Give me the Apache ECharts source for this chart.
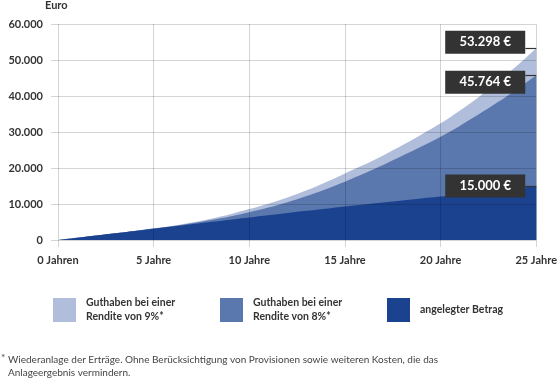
<!DOCTYPE html>
<html>
<head>
<meta charset="utf-8">
<script src="https://cdn.jsdelivr.net/npm/echarts@6/dist/echarts.min.js"></script>
<style>
html,body{margin:0;padding:0;background:#fff;}
#c{width:560px;height:379px;}
</style>
</head>
<body>
<div id="c"></div>
<script>
// Years 0..25
const years = [0,1,2,3,4,5,6,7,8,9,10,11,12,13,14,15,16,17,18,19,20,21,22,23,24,25];
// Guthaben bei einer Rendite von 9%
const rendite9 = [0,620,1250,1880,2520,3230,3980,4880,5930,7180,8600,10100,11800,13800,16050,18500,20900,23500,26300,29300,32400,35900,39750,43950,48450,53298];
// Guthaben bei einer Rendite von 8%
const rendite8 = [0,620,1250,1880,2510,3200,3850,4650,5550,6550,7700,9000,10500,12200,14100,16200,18450,20850,23400,26000,28700,31700,34900,38300,41900,45764];
// angelegter Betrag
const betrag = [0,625,1250,1875,2500,3130,3750,4380,5000,5630,6250,6870,7500,8100,8700,9300,9880,10450,11000,11550,12050,12640,13230,13820,14410,15000];
const seriesNames = ['Guthaben bei einer\nRendite von 9%*', 'Guthaben bei einer\nRendite von 8%*', 'angelegter Betrag'];
const endLabels = ['53.298 €', '45.764 €', '15.000 €'];
const yTickLabels = ['0', '10.000', '20.000', '30.000', '40.000', '50.000', '60.000'];
const footnote = 'Wiederanlage der Erträge. Ohne Berücksichtigung von Provisionen sowie weiteren Kosten, die das\nAnlageergebnis vermindern.';

const colors = ['#b0bedb', '#5a77ae', '#1b428f'];
const labelOffsets = [-6, 7, 0];
const FONT = 'Lato';
const GRID = { left: 58, right: 20, top: 24, bottom: 139 };
const CONNECTOR_PX = 11;

function mkData(vals, idx) {
  return vals.map((v, i) => {
    const item = { value: [years[i], v] };
    if (i === vals.length - 1) {
      item.label = {
        show: true,
        position: 'left',
        distance: CONNECTOR_PX,
        offset: [0, labelOffsets[idx]],
        formatter: '{b|' + endLabels[idx] + '}',
        rich: {
          b: {
            width: 80, height: 23, lineHeight: 23, align: 'center',
            backgroundColor: '#333333', color: '#ffffff',
            fontFamily: FONT, fontWeight: 'bold', fontSize: 13
          }
        }
      };
    }
    return item;
  });
}

const xMax = years[years.length - 1];
const plotW = 560 - GRID.left - GRID.right;
const connectorX = xMax - CONNECTOR_PX * xMax / plotW;

const allData = [rendite9, rendite8, betrag];
const series = allData.map((vals, idx) => {
  const last = vals[vals.length - 1];
  return {
    name: seriesNames[idx],
    type: 'line',
    smooth: 0.3,
    showSymbol: true,
    symbolSize: 0,
    lineStyle: { width: 0 },
    itemStyle: { color: colors[idx] },
    areaStyle: { color: colors[idx], opacity: 1 },
    data: mkData(vals, idx),
    markLine: {
      silent: true,
      symbol: 'none',
      label: { show: false },
      lineStyle: { color: '#333333', width: 1.2, type: 'solid' },
      data: [[{ coord: [connectorX, last] }, { coord: [xMax, last] }]]
    },
    z: 2 + idx,
    animation: false
  };
});

const chart = echarts.init(document.getElementById('c'), null, { renderer: 'canvas' });
chart.setOption({
  animation: false,
  textStyle: { fontFamily: FONT },
  grid: Object.assign({ containLabel: false }, GRID),
  xAxis: {
    type: 'value', min: 0, max: xMax, interval: 5, z: 10,
    axisLine: { show: false },
    axisTick: { show: true, length: 7, lineStyle: { color: 'rgba(0,0,0,0.17)' } },
    splitLine: { show: true, lineStyle: { color: 'rgba(0,0,0,0.17)', width: 1 } },
    axisLabel: {
      margin: 15, color: '#333', fontFamily: FONT, fontWeight: 'bold', fontSize: 11,
      formatter: v => v === 0 ? '0 Jahren' : v + ' Jahre'
    }
  },
  yAxis: {
    type: 'value', min: 0, max: 60000, interval: 10000, z: 10,
    axisLine: { show: false },
    axisTick: { show: true, length: 7, lineStyle: { color: 'rgba(0,0,0,0.17)' } },
    splitLine: { show: true, lineStyle: { color: 'rgba(0,0,0,0.17)', width: 1 } },
    axisLabel: {
      margin: 15, color: '#333', fontFamily: FONT, fontWeight: 'bold', fontSize: 11,
      formatter: v => yTickLabels[Math.round(v / 10000)]
    }
  },
  legend: {
    left: 53, top: 296, padding: 0,
    itemWidth: 23, itemHeight: 24, itemGap: 38,
    icon: 'rect',
    data: seriesNames,
    textStyle: { color: '#333', fontFamily: FONT, fontWeight: 'bold', fontSize: 10.5, lineHeight: 14, width: 96, padding: [0, 0, 0, 5] },
    selectedMode: false
  },
  graphic: [
    { type: 'text', left: 45, top: 0, style: { text: 'Euro', fill: '#333', font: 'bold 11px ' + FONT } },
    { type: 'text', left: 1, top: 353, style: { text: '*', fill: '#444', font: '10px ' + FONT } },
    { type: 'text', left: 8, top: 353, style: { text: footnote, fill: '#444', font: '10px ' + FONT, lineHeight: 13 } }
  ],
  series: series
});
</script>
</body>
</html>
